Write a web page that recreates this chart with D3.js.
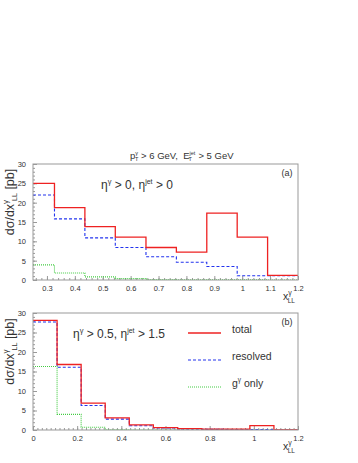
<!DOCTYPE html>
<html>
<head>
<meta charset="utf-8">
<script src="https://cdn.jsdelivr.net/npm/d3@7"></script>
<style>
  body { margin: 0; background: #fff; }
  text { font-family: "Liberation Sans", Arial, sans-serif; fill: #333; }
</style>
</head>
<body>
<div id="chart"></div>
<script>
var W = 358, H = 463

// bin edges (11 bins over 0..1.2); panel (a) starts at 0.25
var edgesA = [0.25, 0.327, 0.436, 0.545, 0.655, 0.764, 0.873, 0.982, 1.091, 1.2]
var edgesB = [0, 0.109, 0.218, 0.327, 0.436, 0.545, 0.655, 0.764, 0.873, 0.982, 1.091, 1.2]

// panel (a): eta_gamma > 0, eta_jet > 0
var totalA    = [25.0, 18.7, 13.8, 11.1, 8.4, 7.2, 17.3, 11.1, 1.2]
var resolvedA = [22.0, 15.8, 10.9, 8.4, 6.0, 4.6, 3.5, 1.1, 1.1]
var gOnlyA    = [3.9, 1.8, 0.8, 0.35, 0.1, 0.05, 0.03, 0.02, 0.01]

// panel (b): eta_gamma > 0.5, eta_jet > 1.5
var totalB    = [28.1, 16.8, 6.9, 3.1, 1.3, 0.6, 0.35, 0.25, 0.25, 1.1, 0]
var resolvedB = [27.7, 16.1, 6.3, 2.8, 1.1, 0.5, 0.25, 0.15, 0.1, 0.1, 0]
var gOnlyB    = [16.3, 4.0, 0.7, 0.05, 0, 0, 0, 0, 0, 0, 0]

var yTicks = [0, 5, 10, 15, 20, 25, 30]
var xTicksA = [0.3, 0.4, 0.5, 0.6, 0.7, 0.8, 0.9, 1, 1.1, 1.2]
var xTicksB = [0, 0.2, 0.4, 0.6, 0.8, 1, 1.2]

var styles = {
  total:    { color: "#ee2222", dash: null, width: 1.3 },
  resolved: { color: "#2233ee", dash: "3,2", width: 1.1 },
  gOnly:    { color: "#44cc44", dash: "1,1", width: 1.1 }
}

var svg = d3.select("#chart").append("svg")
  .attr("width", W)
  .attr("height", H)

function panel(opt) {
  var x = d3.scaleLinear().domain(opt.xDomain).range([33, 298])
  var y = d3.scaleLinear().domain([0, 30]).range([opt.bottom, opt.top])

  var g = svg.append("g")

  g.append("clipPath").attr("id", opt.id)
    .append("rect")
    .attr("x", 33).attr("y", opt.top)
    .attr("width", 265).attr("height", opt.bottom - opt.top)

  // minor + major ticks, pointing inward
  var xMinor = d3.range(Math.ceil(opt.xDomain[0] / 0.02) * 0.02, opt.xDomain[1] + 1e-6, 0.02)
  g.append("g")
    .attr("transform", "translate(0," + opt.bottom + ")")
    .call(d3.axisBottom(x).tickValues(xMinor).tickSize(-2).tickFormat(""))
    .call(function (a) { a.select(".domain").remove(); a.selectAll("line").attr("stroke", "#999") })
  g.append("g")
    .attr("transform", "translate(0," + opt.bottom + ")")
    .call(d3.axisBottom(x).tickValues(opt.xTicks).tickSize(-4).tickPadding(6)
      .tickFormat(function (d) { return d3.format("")(+d.toFixed(1)) }))
    .call(function (a) {
      a.select(".domain").remove()
      a.selectAll("line").attr("stroke", "#999")
      a.selectAll("text").attr("font-size", 7.5).attr("fill", "#444")
        .attr("font-family", "Liberation Sans, Arial, sans-serif")
    })

  g.append("g")
    .attr("transform", "translate(33,0)")
    .call(d3.axisLeft(y).tickValues(d3.range(0, 31, 1)).tickSize(-2).tickFormat(""))
    .call(function (a) { a.select(".domain").remove(); a.selectAll("line").attr("stroke", "#999") })
  g.append("g")
    .attr("transform", "translate(33,0)")
    .call(d3.axisLeft(y).tickValues(yTicks).tickSize(-4).tickPadding(7))
    .call(function (a) {
      a.select(".domain").remove()
      a.selectAll("line").attr("stroke", "#999")
      a.selectAll("text").attr("font-size", 7.5).attr("fill", "#444")
        .attr("font-family", "Liberation Sans, Arial, sans-serif")
    })

  // step histograms
  var line = d3.line()
    .x(function (d) { return x(d[0]) })
    .y(function (d) { return y(d[1]) })
    .curve(d3.curveStepAfter)

  var series = [
    { key: "gOnly", vals: opt.gOnly },
    { key: "resolved", vals: opt.resolved },
    { key: "total", vals: opt.total }
  ]
  series.forEach(function (s) {
    var pts = s.vals.map(function (v, i) { return [opt.edges[i], v] })
    pts.push([opt.edges[opt.edges.length - 1], s.vals[s.vals.length - 1]])
    var st = styles[s.key]
    g.append("path")
      .attr("clip-path", "url(#" + opt.id + ")")
      .attr("d", line(pts))
      .attr("fill", "none")
      .attr("stroke", st.color)
      .attr("stroke-width", st.width)
      .attr("stroke-dasharray", st.dash)
  })

  // frame
  g.append("rect")
    .attr("x", 33).attr("y", opt.top)
    .attr("width", 265).attr("height", opt.bottom - opt.top)
    .attr("fill", "none").attr("stroke", "#999").attr("stroke-width", 1)

  // panel tag
  g.append("text")
    .attr("x", 287).attr("y", opt.top + 12)
    .attr("text-anchor", "middle").attr("font-size", 9)
    .text(opt.tag)

  // y label
  var yl = g.append("text")
    .attr("transform", "translate(14," + ((opt.top + opt.bottom) / 2 - 20) + ") rotate(-90)")
    .attr("text-anchor", "middle").attr("font-size", 12.5)
  yl.append("tspan").text("d\u03c3/dx")
  yl.append("tspan").attr("font-size", 8).attr("dy", -6).text("\u03b3")
  yl.append("tspan").attr("font-size", 7).attr("dy", 9).attr("dx", -1).text("LL")
  yl.append("tspan").attr("dy", -3).text("\u00a0[pb]")

  // x label
  var xl = g.append("text")
    .attr("x", 283).attr("y", opt.bottom + 20)
    .attr("font-size", 10.5)
  xl.append("tspan").text("x")
  xl.append("tspan").attr("font-size", 7).attr("dy", -5).text("\u03b3")
  xl.append("tspan").attr("font-size", 6.5).attr("dy", 8).attr("dx", -4).text("LL")

  // cut label
  var cl = g.append("text")
    .attr("x", opt.cutX).attr("y", opt.top + 25)
    .attr("font-size", 12)
  cl.append("tspan").text("\u03b7")
  cl.append("tspan").attr("font-size", 7.5).attr("dy", -5).text("\u03b3")
  cl.append("tspan").attr("dy", 5).text("\u00a0>\u00a0" + opt.cutG + ",\u00a0\u03b7")
  cl.append("tspan").attr("font-size", 7).attr("dy", -5).text("jet")
  cl.append("tspan").attr("dy", 5).text("\u00a0>\u00a0" + opt.cutJ)

  return { g: g, x: x, y: y }
}

// title
var title = svg.append("text")
  .attr("x", 130).attr("y", 159)
  .attr("font-size", 9.5)
title.append("tspan").text("p")
title.append("tspan").attr("font-size", 5.5).attr("dy", -4).text("\u03b3")
title.append("tspan").attr("font-size", 5.5).attr("dy", 6).attr("dx", -3).text("T")
title.append("tspan").attr("dy", -2).text("\u00a0>\u00a06\u00a0GeV,\u00a0\u00a0E")
title.append("tspan").attr("font-size", 5.5).attr("dy", -4).text("jet")
title.append("tspan").attr("font-size", 5.5).attr("dy", 6).attr("dx", -7).text("T")
title.append("tspan").attr("dy", -2).attr("dx", 4).text("\u00a0>\u00a05\u00a0GeV")

panel({
  id: "clipA", top: 164, bottom: 280, xDomain: [0.25, 1.2], xTicks: xTicksA,
  edges: edgesA, total: totalA, resolved: resolvedA, gOnly: gOnlyA,
  tag: "(a)", cutX: 101, cutG: "0", cutJ: "0"
})

var pb = panel({
  id: "clipB", top: 313, bottom: 430, xDomain: [0, 1.2], xTicks: xTicksB,
  edges: edgesB, total: totalB, resolved: resolvedB, gOnly: gOnlyB,
  tag: "(b)", cutX: 73, cutG: "0.5", cutJ: "1.5"
})

// legend in panel (b)
var legend = [
  { key: "total", label: "total", y: 333 },
  { key: "resolved", label: "resolved", y: 360 },
  { key: "gOnly", label: "g", y: 387 }
]
legend.forEach(function (l) {
  var st = styles[l.key]
  pb.g.append("line")
    .attr("x1", 188).attr("x2", 221).attr("y1", l.y).attr("y2", l.y)
    .attr("stroke", st.color).attr("stroke-width", st.width)
    .attr("stroke-dasharray", st.dash)
  var t = pb.g.append("text")
    .attr("x", 232).attr("y", l.y).attr("font-size", 10.5)
  t.append("tspan").text(l.label)
  if (l.key === "gOnly") {
    t.append("tspan").attr("font-size", 6.5).attr("dy", -5).text("\u03b3")
    t.append("tspan").attr("dy", 5).text("\u00a0only")
  }
})
</script>
</body>
</html>
